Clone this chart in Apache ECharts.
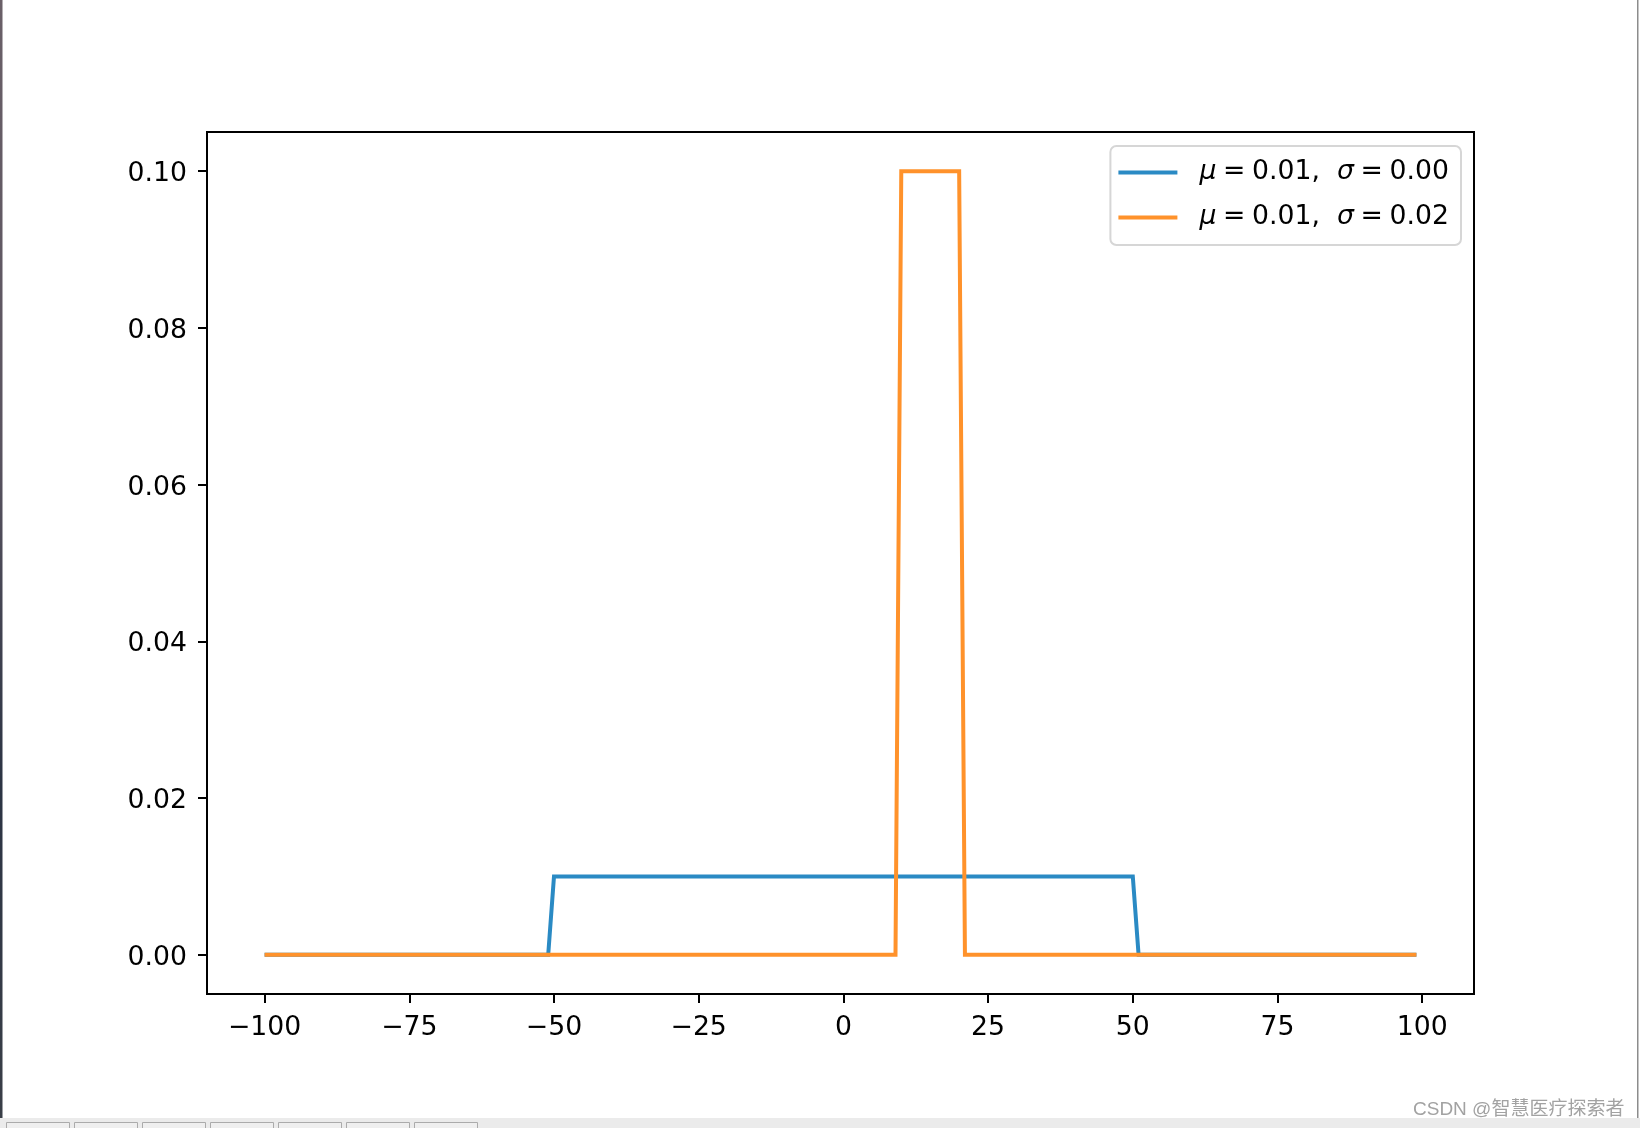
<!DOCTYPE html>
<html>
<head>
<meta charset="utf-8">
<script src="https://cdn.jsdelivr.net/npm/echarts@6/dist/echarts.min.js"></script>
<style>
html,body{margin:0;padding:0;background:#fff;}
#chart{width:1640px;height:1128px;}
</style>
</head>
<body>
<div id="chart"></div>
<script>
// Data (breakpoints of the piecewise lines)
const seriesNames = ['μ\u2005=\u20050.01,  σ\u2005=\u20050.00', 'μ\u2005=\u20050.01,  σ\u2005=\u20050.02'];
const blueX = [-100, -51, -50, 50, 51, 99];
const blueY = [0, 0, 0.01, 0.01, 0, 0];
const orangeX = [-100, 9, 10, 20, 21, 99];
const orangeY = [0, 0, 0.1, 0.1, 0, 0];
const xTicks = [-100, -75, -50, -25, 0, 25, 50, 75, 100];
const yTicks = [0, 0.02, 0.04, 0.06, 0.08, 0.10];

const FONT = 'DejaVu Sans';
const FS = 26.7;

function pairs(xs, ys) { return xs.map((x, i) => [x, ys[i]]); }

const chart = echarts.init(document.getElementById('chart'), null, {renderer: 'canvas'});

const boxes = [];
for (let i = 0; i < 7; i++) {
  boxes.push({
    type: 'rect', silent: true,
    shape: {x: 6.5 + i * 68, y: 1122.5, width: 63, height: 12},
    style: {fill: '#efefef', stroke: '#ababab', lineWidth: 1}
  });
}

chart.setOption({
  backgroundColor: '#ffffff',
  animation: false,
  grid: {
    left: 207, top: 132, width: 1267, height: 862,
    show: true, borderColor: '#000', borderWidth: 2, backgroundColor: 'transparent'
  },
  legend: {
    orient: 'vertical',
    right: 179, top: 146,
    padding: [13, 12, 14, 8],
    itemGap: 18,
    itemWidth: 59, itemHeight: 4,
    icon: 'rect',
    backgroundColor: 'rgba(255,255,255,0.8)',
    borderColor: '#d6d6d6', borderWidth: 2, borderRadius: 6,
    data: seriesNames,
    formatter: function (name) {
      return name.replace(/([μσ])/g, '{i|$1}');
    },
    textStyle: {
      fontFamily: FONT, fontSize: FS, color: '#000', lineHeight: 27,
      padding: [0, 0, 0, 17],
      rich: {
        i: {fontFamily: FONT, fontSize: FS, fontStyle: 'italic', color: '#000', lineHeight: 27}
      }
    }
  },
  xAxis: {
    type: 'value',
    min: -109.95, max: 108.95,
    axisLine: {show: true, onZero: false, lineStyle: {color: '#000', width: 2}},
    axisTick: {show: true, inside: false, length: 9, lineStyle: {color: '#000', width: 2}, customValues: xTicks},
    axisLabel: {
      show: true, margin: 21, color: '#000', fontFamily: FONT, fontSize: FS,
      customValues: xTicks,
      formatter: function (v) { return String(Math.round(v)).replace('-', '\u2212'); }
    },
    splitLine: {show: false}
  },
  yAxis: {
    type: 'value',
    min: -0.005, max: 0.105,
    axisLine: {show: true, onZero: false, lineStyle: {color: '#000', width: 2}},
    axisTick: {show: true, inside: false, length: 9, lineStyle: {color: '#000', width: 2}, customValues: yTicks},
    axisLabel: {
      show: true, margin: 20, color: '#000', fontFamily: FONT, fontSize: FS,
      customValues: yTicks,
      formatter: function (v) { return '{a|' + v.toFixed(2) + '}'; },
      rich: {
        a: {fontFamily: FONT, fontSize: FS, color: '#000', padding: [6, 0, 0, 0]}
      }
    },
    splitLine: {show: false}
  },
  series: [
    {
      name: seriesNames[0], type: 'line', data: pairs(blueX, blueY),
      showSymbol: false, symbol: 'none',
      lineStyle: {color: '#2a8ac4', width: 4, join: 'miter'},
      itemStyle: {color: '#2a8ac4'}, z: 2
    },
    {
      name: seriesNames[1], type: 'line', data: pairs(orangeX, orangeY),
      showSymbol: false, symbol: 'none',
      lineStyle: {color: '#ff922b', width: 4, join: 'miter'},
      itemStyle: {color: '#ff922b'}, z: 3
    }
  ],
  graphic: [
    {
      type: 'rect', silent: true, z: 100,
      shape: {x: 0, y: 0, width: 2.5, height: 1118},
      style: {
        fill: new echarts.graphic.LinearGradient(0, 0, 0, 1, [
          {offset: 0, color: '#6a6068'},
          {offset: 0.4, color: '#5a5460'},
          {offset: 0.7, color: '#2c3444'},
          {offset: 1, color: '#3a3f48'}
        ])
      }
    },
    {
      type: 'rect', silent: true, z: 100,
      shape: {x: 1637, y: 0, width: 1.5, height: 1118},
      style: {fill: '#8c8c8c'}
    },
    {
      type: 'rect', silent: true, z: 100,
      shape: {x: 0, y: 1118, width: 1640, height: 10},
      style: {fill: '#ebebeb'}
    }
  ].concat(boxes.map(b => Object.assign(b, {z: 101}))).concat([
    {
      type: 'text', silent: true, z: 102,
      x: 1413, y: 1110,
      style: {
        text: 'CSDN @智慧医疗探索者',
        fontFamily: '"Liberation Sans", "Noto Sans CJK SC", sans-serif',
        fontSize: 19,
        fill: '#a2a2a2',
        textVerticalAlign: 'middle',
        verticalAlign: 'middle'
      }
    }
  ])
});
</script>
</body>
</html>
